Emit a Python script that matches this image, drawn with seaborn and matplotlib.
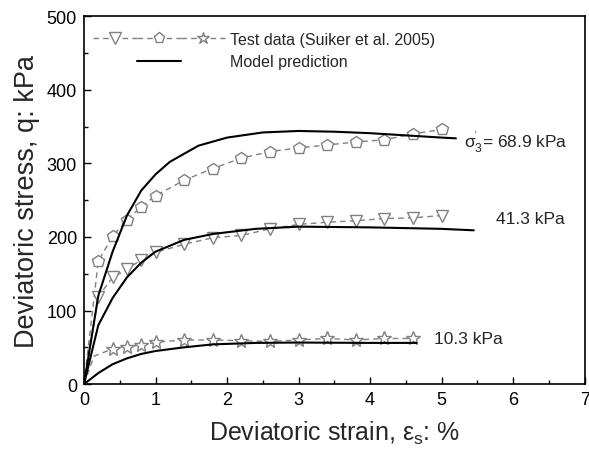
import numpy as np
import pandas as pd
import matplotlib
matplotlib.use("Agg")
import matplotlib.pyplot as plt
import seaborn as sns
from matplotlib.lines import Line2D
from matplotlib.legend_handler import HandlerTuple
from matplotlib.ticker import MultipleLocator

# ---- Test data (Suiker et al. 2005) ----
x_test_689 = [0, 0.2, 0.4, 0.6, 0.8, 1.0, 1.4, 1.8, 2.2, 2.6, 3.0, 3.4, 3.8, 4.2, 4.6, 5.0]
q_test_689 = [0, 167, 201, 223, 241, 256, 277, 293, 307, 316, 321, 325, 329, 332, 340, 346]

x_test_413 = [0, 0.2, 0.4, 0.6, 0.8, 1.0, 1.4, 1.8, 2.2, 2.6, 3.0, 3.4, 3.8, 4.2, 4.6, 5.0]
q_test_413 = [0, 119, 145, 156, 169, 179, 190, 199, 202, 211, 217, 220, 222, 225, 226, 229]

x_test_103 = [0, 0.14, 0.4, 0.6, 0.8, 1.0, 1.4, 1.8, 2.2, 2.6, 3.0, 3.4, 3.8, 4.2, 4.6]
q_test_103 = [0, 38, 48, 51, 53, 57, 60, 60, 59, 58, 60, 62, 60, 62, 62]

# ---- Model prediction ----
x_mod_689 = [0, 0.2, 0.4, 0.6, 0.8, 1.0, 1.2, 1.6, 2.0, 2.5, 3.0, 3.5, 4.0, 4.5, 5.0, 5.2]
q_mod_689 = [0, 120, 180, 229, 263, 285, 302, 324, 335, 342, 344, 343, 341, 338, 335, 334]

x_mod_413 = [0, 0.2, 0.4, 0.6, 0.8, 1.0, 1.4, 1.8, 2.4, 3.0, 4.0, 5.0, 5.45]
q_mod_413 = [0, 80, 117, 145, 165, 180, 196, 204, 211, 214, 213, 211, 209]

x_mod_103 = [0, 0.2, 0.4, 0.6, 0.8, 1.0, 1.4, 1.8, 2.4, 3.0, 4.0, 4.65]
q_mod_103 = [0, 15, 27, 35, 41, 45, 50, 54, 56, 56.5, 56, 56]

labels_pressure = [r"$\mathregular{\sigma_3^{'}}$= 68.9 kPa", "41.3 kPa", "10.3 kPa"]
x_ticks = [0, 1, 2, 3, 4, 5, 6, 7]
y_ticks = [0, 100, 200, 300, 400, 500]

sns.set_theme(style="ticks")
plt.rcParams["font.family"] = ["Liberation Sans", "DejaVu Sans"]
plt.rcParams["mathtext.fontset"] = "custom"
plt.rcParams["mathtext.rm"] = "Liberation Sans"
plt.rcParams["mathtext.it"] = "Liberation Sans:italic"
plt.rcParams["mathtext.bf"] = "Liberation Sans:bold"

fig = plt.figure(figsize=(5.89, 4.64), dpi=100)
ax = fig.add_axes([0.1426, 0.170, 0.850, 0.793])

gray = "#808080"
mk = dict(markerfacecolor="white", markeredgecolor=gray, markeredgewidth=1.0)

def test_series(xs, qs, marker, ms, first):
    sns.lineplot(x=xs, y=qs, ax=ax, color=gray, linestyle=(0, (4, 3)), linewidth=1.0,
                 marker=marker, markersize=ms, markevery=list(range(first, len(xs))),
                 estimator=None, sort=False, **mk)

test_series(x_test_689, q_test_689, "p", 9, 1)
test_series(x_test_413, q_test_413, "v", 9, 1)
test_series(x_test_103, q_test_103, "*", 10, 2)

for xs, qs in [(x_mod_689, q_mod_689), (x_mod_413, q_mod_413), (x_mod_103, q_mod_103)]:
    sns.lineplot(x=xs, y=qs, ax=ax, color="black", linewidth=1.5, estimator=None, sort=False)

ax.set_xlim(0, 7)
ax.set_ylim(0, 500)
ax.set_xticks(x_ticks)
ax.set_yticks(y_ticks)
ax.xaxis.set_minor_locator(MultipleLocator(0.5))
ax.yaxis.set_minor_locator(MultipleLocator(50))
ax.tick_params(which="both", direction="in", top=False, right=False, colors="black")
ax.tick_params(which="major", length=5, width=1.0, labelsize=13, pad=5)
ax.tick_params(which="minor", length=3, width=1.0)
for s in ax.spines.values():
    s.set_visible(True)
    s.set_color("black")
    s.set_linewidth(1.2)

ax.set_xlabel(r"Deviatoric strain, $\mathregular{\varepsilon_s}$: %", fontsize=18, labelpad=8)
ax.set_ylabel("Deviatoric stress, q: kPa", fontsize=19.5, labelpad=5)

ax.text(5.32, 330, labels_pressure[0], fontsize=12.5, va="center", ha="left")
ax.text(5.76, 225, labels_pressure[1], fontsize=12.5, va="center", ha="left")
ax.text(4.9, 62, labels_pressure[2], fontsize=12.5, va="center", ha="left")

# legend
def mh(marker, ms):
    return Line2D([], [], color=gray, linestyle=(0, (4, 3)), linewidth=1.0, marker=marker,
                  markersize=ms, **mk)
h_test = (mh("v", 8), mh("p", 8), mh("*", 9))
blank = Line2D([], [], linestyle="none")
h_mod = (blank, Line2D([], [], color="black", linewidth=1.5), blank)
ax.legend([h_test, h_mod], ["Test data (Suiker et al. 2005)", "Model prediction"],
          handler_map={tuple: HandlerTuple(ndivide=None, pad=0.0)},
          loc="upper left", bbox_to_anchor=(0.018, 0.957), frameon=False, fontsize=11.5,
          handlelength=8.25, handletextpad=0.3, labelspacing=0.45, borderaxespad=0.0,
          borderpad=0.0)

fig.savefig("out.png", dpi=100)
